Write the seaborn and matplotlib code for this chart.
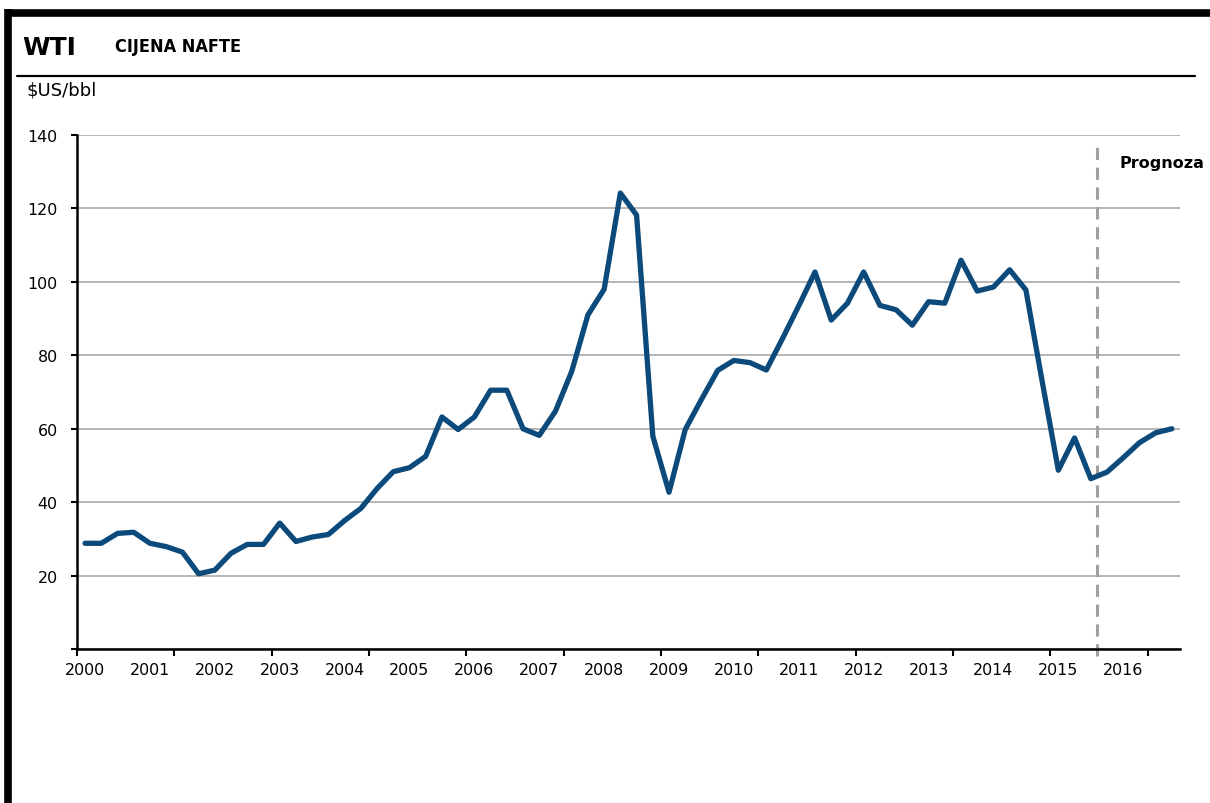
import numpy as np
import pandas as pd
import matplotlib
matplotlib.use("Agg")
import matplotlib.pyplot as plt
from matplotlib.lines import Line2D
import seaborn as sns

# WTI cijena nafte, kvartalno 2000Q1 - 2016Q4 ($US/bbl)
godine = list(range(2000, 2017))
kvartali = [f"{g}Q{q}" for g in godine for q in range(1, 5)]
wti = [28.8, 28.8, 31.5, 31.8, 28.8, 27.9, 26.4, 20.5, 21.5, 26.1,
       28.5, 28.5, 34.3, 29.3, 30.5, 31.2, 35.0, 38.3, 43.7, 48.3,
       49.4, 52.5, 63.2, 59.8, 63.2, 70.5, 70.5, 60.0, 58.2, 64.8,
       75.6, 91.0, 98.0, 124.2, 118.2, 58.0, 42.7, 59.8, 68.0, 75.9,
       78.6, 78.0, 76.0, 84.6, 93.5, 102.7, 89.6, 94.2, 102.7, 93.6,
       92.4, 88.2, 94.6, 94.2, 105.9, 97.5, 98.6, 103.3, 97.8, 73.0,
       48.7, 57.5, 46.4, 48.2, 52.1, 56.2, 58.9, 60.0]
y_ticks = [0, 20, 40, 60, 80, 100, 120, 140]
prognoza_od = 62.4  # pocetak prognoze (izmedju 2015Q3 i 2015Q4)

df = pd.DataFrame({"kvartal": kvartali, "cijena": wti})
df["pozicija"] = np.arange(len(df))

sns.set_theme(style="white")
plt.rcParams["font.family"] = ["DejaVu Sans"]
plt.rcParams["text.color"] = "black"

fig = plt.figure(figsize=(12.1, 8.04), dpi=100)
ax = fig.add_axes([0.0636, 0.1915, 0.9116, 0.6393])

sns.lineplot(data=df, x="pozicija", y="cijena", color="#0b4a7a",
             linewidth=3.8, ax=ax, zorder=3)

# osi
ax.set_xlim(-0.5, len(df) - 0.5)
ax.set_ylim(0, 140)
ax.set_yticks(y_ticks)
ax.set_yticklabels([""] + [str(v) for v in y_ticks[1:]])
ax.yaxis.grid(True, color="#b5b5b5", linewidth=1.4)
ax.set_axisbelow(True)

# oznake godina na prvom kvartalu, crtice svakih 6 kvartala (kao u Excelu)
ax.set_xticks(df["pozicija"][::4])
ax.set_xticklabels([str(g) for g in godine])
ax.set_xticks(np.arange(-0.5, len(df), 6), minor=True)
ax.tick_params(axis="x", which="major", length=0, pad=9, labelsize=11.4,
               labelcolor="black")
ax.tick_params(axis="x", which="minor", length=5, width=1.5, color="black",
               direction="out", bottom=True)
ax.tick_params(axis="y", which="major", length=4, width=1.5, color="black",
               direction="out", left=True, labelsize=11.4, pad=10,
               labelcolor="black")
ax.set_xlabel("")
ax.set_ylabel("")

for s in ["top", "right"]:
    ax.spines[s].set_visible(False)
for s in ["left", "bottom"]:
    ax.spines[s].set_color("black")
    ax.spines[s].set_linewidth(1.8)

# prognoza
ax.plot([prognoza_od, prognoza_od], [-2, 137], color="#a0a0a0",
        linewidth=2.2, linestyle=(0, (4, 2.5)), clip_on=False, zorder=2)
ax.text(prognoza_od + 1.35, 132.5, "Prognoza", fontsize=11.5,
        fontweight="bold", ha="left", va="center", color="black")

# naslov i okvir
fig.text(0.018, 0.940, "WTI", fontsize=18, fontweight="bold", va="center",
         color="black")
fig.text(0.095, 0.942, "CIJENA NAFTE", fontsize=13, fontweight="bold",
         fontstretch="condensed", va="center", color="black")
fig.text(0.022, 0.888, "$US/bbl", fontsize=13, va="center", color="black")

fig.add_artist(Line2D([0.014, 0.9876], [0.9042, 0.9042],
                      transform=fig.transFigure, color="black", linewidth=1.6))
fig.add_artist(Line2D([0.004, 1.0], [0.9832, 0.9832],
                      transform=fig.transFigure, color="black", linewidth=5.5,
                      solid_capstyle="butt"))
fig.add_artist(Line2D([0.007, 0.007], [0.0, 0.988],
                      transform=fig.transFigure, color="black", linewidth=5.5,
                      solid_capstyle="butt"))

fig.savefig("out.png", dpi=100, facecolor="white")
